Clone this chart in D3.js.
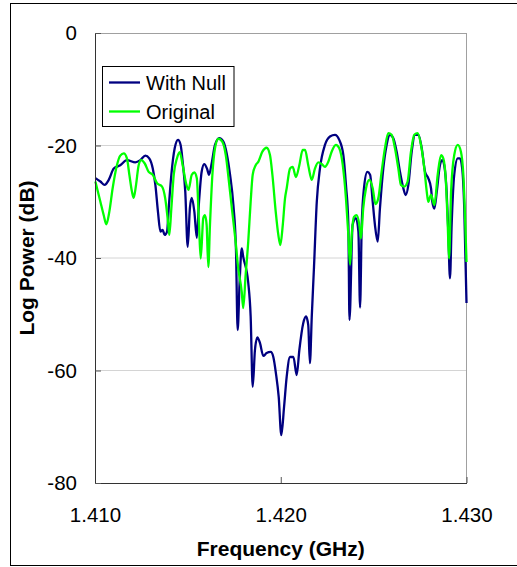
<!DOCTYPE html>
<html><head><meta charset="utf-8">
<script src="https://cdn.jsdelivr.net/npm/d3@7"></script>
<style>body{margin:0;background:#fff}svg{display:block}text{font-family:"Liberation Sans",Arial,sans-serif}</style>
</head><body>
<svg id="c" width="517" height="567"></svg>
<script>
// ---- data ----
const seriesNames = ["With Null", "Original"];
const seriesColors = ["#000080", "#00ff00"];
const xTicks = [1.410, 1.420, 1.430];
const yTicks = [0, -20, -40, -60, -80];
const withNullFreq = [1.41002,1.41029,1.41052,1.41074,1.41101,1.41136,1.41172,1.41217,1.41244,1.41271,1.41292,1.41311,1.41325,1.41339,1.41352,1.41364,1.41375,1.41388,1.41397,1.41411,1.41429,1.41447,1.41461,1.41472,1.41486,1.41499,1.41511,1.41521,1.41535,1.41548,1.41560,1.41574,1.41588,1.41603,1.41614,1.41628,1.41646,1.41669,1.41691,1.41709,1.41727,1.41745,1.41759,1.41768,1.41779,1.41790,1.41798,1.41825,1.41838,1.41849,1.41861,1.41874,1.41888,1.41906,1.41924,1.41946,1.41960,1.41974,1.41989,1.42003,1.42018,1.42032,1.42050,1.42068,1.42086,1.42100,1.42121,1.42136,1.42148,1.42157,1.42167,1.42179,1.42194,1.42211,1.42238,1.42265,1.42292,1.42315,1.42337,1.42351,1.42364,1.42370,1.42387,1.42405,1.42418,1.42427,1.42436,1.42448,1.42466,1.42481,1.42495,1.42507,1.42522,1.42534,1.42552,1.42570,1.42588,1.42606,1.42624,1.42642,1.42660,1.42673,1.42687,1.42705,1.42723,1.42741,1.42759,1.42777,1.42794,1.42809,1.42816,1.42827,1.42840,1.42857,1.42870,1.42880,1.42893,1.42902,1.42911,1.42920,1.42934,1.42953,1.42965,1.42977,1.42988,1.43000];
const withNullDb = [-25.8,-26.4,-27.0,-26.1,-24.1,-23.5,-22.6,-23.0,-22.6,-21.8,-22.3,-24.1,-27.0,-31.8,-35.3,-35.0,-35.9,-35.3,-31.1,-25.2,-20.5,-19.0,-19.9,-22.9,-28.2,-38.0,-31.1,-29.3,-31.8,-36.4,-30.0,-24.7,-23.3,-24.1,-25.2,-23.2,-19.9,-18.7,-19.3,-21.4,-25.2,-30.6,-38.6,-52.8,-43.9,-38.3,-39.8,-44.4,-50.4,-62.9,-56.4,-54.1,-55.1,-57.4,-56.9,-56.7,-57.6,-60.5,-64.7,-71.5,-66.4,-61.1,-57.6,-57.6,-60.8,-56.4,-51.6,-50.4,-51.9,-58.7,-50.4,-41.6,-30.0,-24.1,-19.9,-18.4,-18.1,-19.0,-21.7,-27.0,-34.1,-51.0,-34.1,-32.9,-35.3,-48.8,-34.1,-27.6,-24.7,-25.2,-30.0,-34.1,-37.1,-31.2,-24.1,-19.9,-18.1,-18.7,-21.1,-24.7,-27.6,-28.8,-27.0,-21.1,-18.1,-18.1,-20.5,-24.7,-25.8,-27.6,-30.0,-31.2,-28.2,-23.5,-22.6,-23.5,-28.2,-35.3,-43.6,-34.1,-25.2,-22.3,-22.3,-24.1,-31.2,-48.0];
const originalFreq = [1.41002,1.41029,1.41047,1.41061,1.41077,1.41095,1.41118,1.41136,1.41155,1.41172,1.41185,1.41199,1.41208,1.41221,1.41235,1.41249,1.41268,1.41289,1.41311,1.41334,1.41361,1.41378,1.41393,1.41400,1.41411,1.41424,1.41441,1.41456,1.41472,1.41490,1.41503,1.41521,1.41535,1.41548,1.41560,1.41569,1.41583,1.41592,1.41601,1.41610,1.41619,1.41632,1.41646,1.41664,1.41685,1.41704,1.41721,1.41739,1.41757,1.41771,1.41790,1.41798,1.41811,1.41825,1.41838,1.41849,1.41865,1.41879,1.41901,1.41924,1.41942,1.41955,1.41973,1.41987,1.41998,1.42011,1.42023,1.42032,1.42050,1.42064,1.42082,1.42100,1.42118,1.42131,1.42148,1.42167,1.42184,1.42202,1.42220,1.42238,1.42256,1.42274,1.42297,1.42315,1.42334,1.42351,1.42364,1.42373,1.42382,1.42394,1.42409,1.42423,1.42432,1.42444,1.42459,1.42477,1.42495,1.42510,1.42525,1.42543,1.42561,1.42579,1.42597,1.42615,1.42633,1.42647,1.42665,1.42683,1.42701,1.42719,1.42737,1.42755,1.42773,1.42786,1.42794,1.42809,1.42827,1.42845,1.42863,1.42875,1.42888,1.42899,1.42906,1.42917,1.42934,1.42953,1.42970,1.42983,1.43000];
const originalDb = [-26.4,-30.0,-32.4,-34.0,-31.8,-27.6,-23.5,-21.8,-21.4,-22.3,-25.2,-28.2,-29.3,-27.0,-23.5,-22.6,-23.2,-24.7,-25.2,-26.7,-27.3,-29.4,-33.6,-35.9,-31.2,-25.2,-22.3,-21.2,-23.5,-26.7,-27.9,-25.2,-24.8,-25.8,-34.1,-40.1,-32.9,-32.4,-34.1,-41.6,-34.1,-25.2,-20.5,-18.8,-19.3,-21.7,-26.4,-31.8,-37.1,-41.8,-46.0,-48.9,-43.0,-37.1,-30.0,-25.2,-23.5,-22.9,-21.1,-20.4,-21.7,-25.2,-31.8,-35.9,-37.7,-34.1,-29.4,-27.6,-24.1,-23.8,-25.6,-23.5,-20.8,-20.8,-23.5,-26.1,-24.1,-23.0,-23.3,-23.8,-22.9,-21.1,-19.9,-20.5,-23.5,-29.4,-35.9,-41.2,-35.9,-32.7,-32.4,-34.1,-36.5,-31.2,-27.6,-26.1,-27.6,-30.4,-29.4,-24.7,-20.5,-17.8,-18.1,-20.5,-24.1,-27.0,-27.3,-26.4,-21.1,-18.1,-17.8,-19.9,-24.1,-28.2,-30.0,-28.8,-30.6,-25.2,-21.7,-22.3,-25.8,-34.1,-40.1,-28.2,-21.7,-19.9,-21.1,-25.2,-40.7];

// ---- chart ----
const svg = d3.select("#c");
const L = 95, R = 466.5, T = 33, B = 483;
const x = d3.scaleLinear().domain([1.410, 1.430]).range([L, R]);
const y = d3.scaleLinear().domain([-80, 0]).range([B, T]);
const font = "Liberation Sans, Arial, sans-serif";

// outer frame
svg.append("rect").attr("x", 10.5).attr("y", 3.5).attr("width", 520).attr("height", 562)
  .attr("fill", "none").attr("stroke", "#000").attr("stroke-width", 1);

// gridlines
svg.append("g").selectAll("line").data(yTicks.filter(v => v > -80 && v < 0)).join("line")
  .attr("x1", L).attr("x2", R).attr("y1", d => y(d)).attr("y2", d => y(d))
  .attr("stroke", "#d4d4d4").attr("stroke-width", 1);

// plot border (top/right gray)
svg.append("line").attr("x1", L).attr("x2", R).attr("y1", T + 0.5).attr("y2", T + 0.5).attr("stroke", "#a0a0a0");
svg.append("line").attr("x1", R).attr("x2", R).attr("y1", T).attr("y2", B).attr("stroke", "#a0a0a0");

// lines
const line = d3.line().x(d => x(d[0])).y(d => y(d[1])).curve(d3.curveMonotoneX);
const withNull = withNullFreq.map((f, i) => [f, withNullDb[i]]);
const original = originalFreq.map((f, i) => [f, originalDb[i]]);
const plot = svg.append("g");
plot.append("path").datum(withNull).attr("d", line).attr("fill", "none")
  .attr("stroke", seriesColors[0]).attr("stroke-width", 2.3).attr("stroke-linejoin", "round");
plot.append("path").datum(original).attr("d", line).attr("fill", "none")
  .attr("stroke", seriesColors[1]).attr("stroke-width", 2.3).attr("stroke-linejoin", "round");

// axes
const xAxis = d3.axisBottom(x).tickValues(xTicks).tickSizeInner(-6).tickSizeOuter(0)
  .tickFormat(d3.format(".3f"));
const gx = svg.append("g").attr("transform", `translate(0,${B})`).call(xAxis);
gx.select(".domain").attr("stroke", "#333");
gx.selectAll(".tick line").attr("stroke", "#555");
gx.selectAll("text").attr("font-size", 20.5).attr("fill", "#000").attr("font-family", font)
  .attr("y", 38.5).attr("dy", 0);

const yAxis = d3.axisLeft(y).tickValues(yTicks).tickSizeInner(-6).tickSizeOuter(0)
  .tickFormat(d => String(d)).tickPadding(18);
const gy = svg.append("g").attr("transform", `translate(${L},0)`).call(yAxis);
gy.select(".domain").attr("stroke", "#333");
gy.selectAll(".tick line").attr("stroke", "#555");
gy.selectAll("text").attr("font-size", 20.5).attr("fill", "#000").attr("font-family", font);

// axis titles
svg.append("text").attr("x", (L + R) / 2).attr("y", 555.5).attr("text-anchor", "middle")
  .attr("font-size", 21).attr("font-weight", "bold").text("Frequency (GHz)");
svg.append("text").attr("transform", `translate(34,${(T + B) / 2}) rotate(-90)`)
  .attr("text-anchor", "middle").attr("font-size", 21).attr("font-weight", "bold").text("Log Power (dB)");

// legend
const lg = svg.append("g");
lg.append("rect").attr("x", 102.5).attr("y", 66.5).attr("width", 131.5).attr("height", 60)
  .attr("fill", "#fff").attr("stroke", "#000");
seriesNames.forEach((n, i) => {
  const cy = 82.5 + i * 29;
  lg.append("line").attr("x1", 109).attr("x2", 140).attr("y1", cy).attr("y2", cy)
    .attr("stroke", seriesColors[i]).attr("stroke-width", 2.3);
  lg.append("text").attr("x", 146).attr("y", cy).attr("dy", "0.35em").attr("font-size", 20).text(n);
});
</script>
</body></html>
